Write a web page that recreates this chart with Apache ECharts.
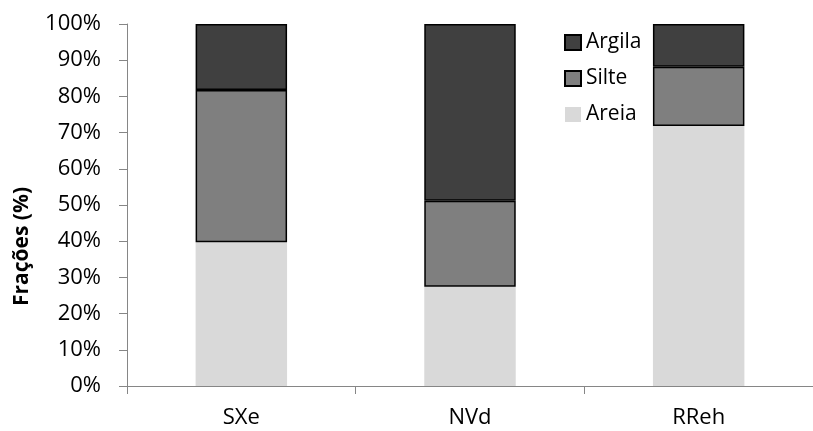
<!DOCTYPE html>
<html><head><meta charset="utf-8">
<script src="https://cdn.jsdelivr.net/npm/echarts@6/dist/echarts.min.js"></script>
<style>html,body{margin:0;padding:0;background:#fff}#c{width:813px;height:431px}</style>
</head><body><div id="c"></div>
<script>
const categories = ['SXe', 'NVd', 'RReh'];
const areia = [39.7, 27.4, 71.8];
const silte = [42.1, 23.8, 16.4];
const argila = [18.2, 48.8, 11.8];
const yTicks = [0, 10, 20, 30, 40, 50, 60, 70, 80, 90, 100];
const yName = 'Frações (%)';

const FONT = 'Open Sans';
const chart = echarts.init(document.getElementById('c'), null, {renderer: 'canvas'});
const axisCol = '#868686';
chart.setOption({
  animation: false,
  grid: {left: 127, top: 24, bottom: 45, width: 697, containLabel: false},
  legend: {
    orient: 'vertical', left: 564, top: 32, padding: 0, itemWidth: 16, itemHeight: 15, itemGap: 15,
    data: ['Argila', 'Silte', 'Areia'],
    textStyle: {fontFamily: FONT, fontSize: 21, color: '#000'},
    icon: 'rect'
  },
  xAxis: {
    type: 'category', data: categories,
    axisLine: {lineStyle: {color: axisCol, width: 1}},
    axisTick: {show: true, length: 8, lineStyle: {color: axisCol}},
    axisLabel: {fontFamily: FONT, fontSize: 22, color: '#000', margin: 21}
  },
  yAxis: {
    type: 'value', min: 0, max: 100, interval: 10,
    axisLine: {show: true, lineStyle: {color: axisCol, width: 1}},
    axisTick: {show: true, length: 8, lineStyle: {color: axisCol}},
    splitLine: {show: false},
    axisLabel: {fontFamily: FONT, fontSize: 22, color: '#000', margin: 26,
      formatter: v => yTicks.includes(v) ? v + '%' : ''}
  },
  graphic: [{
    type: 'text', x: 22, y: 246.5, rotation: Math.PI / 2,
    style: {text: yName, fontFamily: FONT, fontSize: 21, fontWeight: 'bold', fill: '#000',
      align: 'center', verticalAlign: 'middle'}
  }],
  series: [
    {name: 'Areia', type: 'bar', stack: 't', data: areia, barWidth: '40%',
     itemStyle: {color: '#d9d9d9', borderWidth: 0}},
    {name: 'Silte', type: 'bar', stack: 't', data: silte,
     itemStyle: {color: '#7f7f7f', borderColor: '#000', borderWidth: 1.5}},
    {name: 'Argila', type: 'bar', stack: 't', data: argila,
     itemStyle: {color: '#404040', borderColor: '#000', borderWidth: 1.5}}
  ]
});
</script></body></html>
